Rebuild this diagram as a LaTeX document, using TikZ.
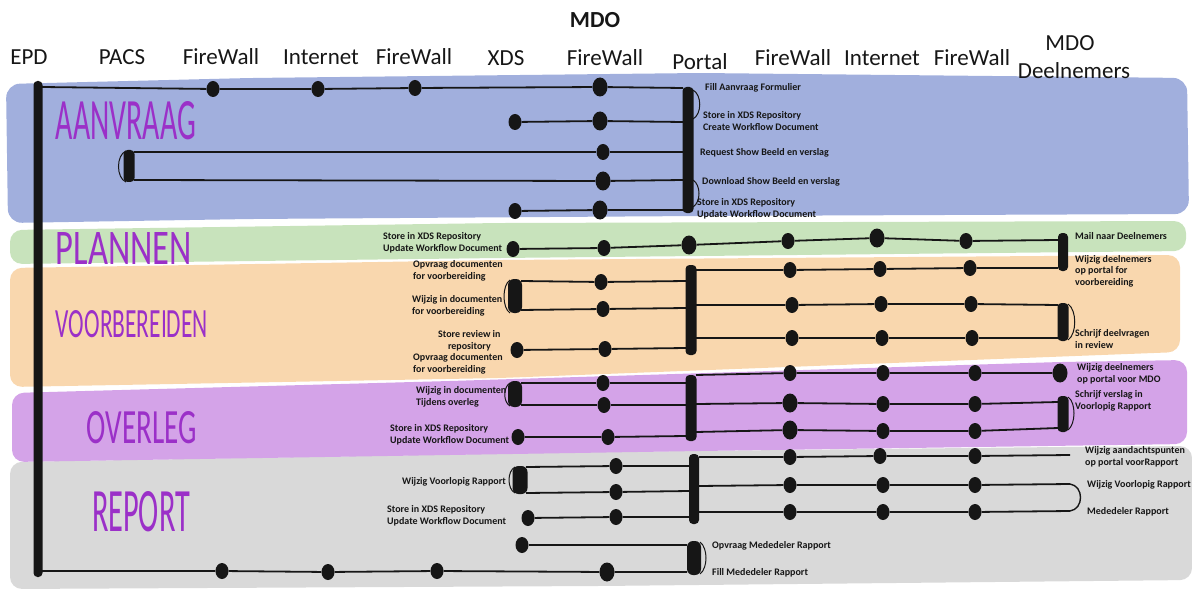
\documentclass[tikz,border=0pt]{standalone}
\usepackage{fontspec}
\usepackage{graphicx}
\setmainfont{Carlito}
\usetikzlibrary{shapes.geometric}
\definecolor{bandblue}{RGB}{161,175,221}
\definecolor{bandgreen}{RGB}{200,227,188}
\definecolor{bandorange}{RGB}{249,215,174}
\definecolor{bandpurple}{RGB}{212,163,232}
\definecolor{bandgray}{RGB}{217,217,217}
\definecolor{ink}{RGB}{22,22,22}
\definecolor{phasecol}{RGB}{155,48,200}
\begin{document}
\begin{tikzpicture}[x=1pt,y=-1pt,
  dot/.style={ellipse, fill=ink, inner sep=0pt, minimum width=13pt, minimum height=16pt},
  bigdot/.style={dot, minimum width=15pt, minimum height=19pt},
  bar/.style={rectangle, rounded corners=4pt, fill=ink, inner sep=0pt, minimum width=10pt},
  wire/.style={draw=ink, line width=1.8pt},
  rim/.style={draw=ink, line width=1pt},
  note/.style={font=\fontsize{10}{11.5}\selectfont\bfseries, text=ink, align=left, inner sep=0pt, anchor=west},
  hdr/.style={font=\fontsize{23}{23}\selectfont, text=ink, inner sep=0pt},
  phase/.style={text=phasecol, inner sep=0pt}]
\useasboundingbox (0,0) rectangle (1192,591);

% ---- coloured phase bands
\fill[bandblue, rounded corners=14pt] (6,84) -- (250,78) -- (700,73) -- (1187,78) -- (1189,214) -- (700,216) -- (250,219) -- (8,223) -- cycle;
\fill[bandgreen, rounded corners=12pt] (10,230) -- (500,223) -- (1186,221) -- (1186,251) -- (700,256) -- (500,258) -- (10,264) -- cycle;
\fill[bandorange, rounded corners=12pt] (10,268) -- (500,260) -- (1180,255) -- (1180,352) -- (500,378) -- (10,387) -- cycle;
\fill[bandgray, rounded corners=12pt] (10,462) -- (600,452) -- (1060,447) -- (1192,446) -- (1192,580) -- (600,586) -- (10,589) -- cycle;
\fill[bandpurple, rounded corners=12pt] (12,393) -- (450,381) -- (1060,362) -- (1187,360) -- (1187,444) -- (700,451) -- (12,462) -- cycle;

% ---- column headers
\node[hdr, font=\fontsize{23}{23}\selectfont\bfseries] (mdotop) at (595,20) {MDO};
\node[hdr] (hEPD) at (29,57) {EPD};
\node[hdr] (hPACS) at (122,57) {PACS};
\node[hdr] (hFW1) at (221,57) {FireWall};
\node[hdr] (hINT1) at (321,57) {Internet};
\node[hdr] (hFW2) at (414,57) {FireWall};
\node[hdr] (hXDS) at (506,58) {XDS};
\node[hdr] (hFW3) at (605,58) {FireWall};
\node[hdr] (hPortal) at (700,62) {Portal};
\node[hdr] (hFW4) at (793,58) {FireWall};
\node[hdr] (hINT2) at (882,58) {Internet};
\node[hdr] (hFW5) at (972,58) {FireWall};
\node[hdr] (hMDO) at (1070,43) {MDO};
\node[hdr] (hDeel) at (1074,71) {Deelnemers};

% ---- phase names
\node[phase] (phA) at (126,121) {\resizebox{140pt}{38pt}{AANVRAAG}};
\node[phase] (phP) at (124,248) {\resizebox{136pt}{32pt}{PLANNEN}};
\node[phase] (phV) at (132,324) {\resizebox{152pt}{27pt}{VOORBEREIDEN}};
\node[phase] (phO) at (142,428) {\resizebox{110pt}{32pt}{OVERLEG}};
\node[phase] (phR) at (141,512) {\resizebox{98pt}{40pt}{REPORT}};

% ---- system bars
\node[bar, minimum width=9pt, minimum height=496pt] (epd) at (38,329) {};
\coordinate (epdT) at (42,87);
\coordinate (epdB) at (42,571);
\node[bar, minimum width=11pt, minimum height=32pt] (pacs) at (129,166) {};
\coordinate (kA1) at (134,152);
\coordinate (kA2) at (134,180);
\node[bar, minimum width=11pt, minimum height=126pt] (pbA) at (688,150) {};
\node[bar, minimum width=11pt, minimum height=90pt] (pbV) at (691,310) {};
\node[bar, minimum width=11pt, minimum height=66pt] (pbO) at (691,408) {};
\node[bar, minimum width=10pt, minimum height=70pt] (pbR) at (694,489) {};
\node[bar, minimum width=14pt, minimum height=34pt, rounded corners=6pt] (pbB) at (694,558) {};
\node[bar, minimum width=14pt, minimum height=34pt, rounded corners=6pt] (xbV) at (515,296) {};
\node[bar, minimum width=14pt, minimum height=26pt, rounded corners=6pt] (xbO) at (515,394) {};
\node[bar, minimum width=15pt, minimum height=28pt, rounded corners=6pt] (xbR) at (520,480) {};
\node[bar, minimum width=10pt, minimum height=38pt] (mb1) at (1063,252) {};
\node[bar, minimum width=11pt, minimum height=38pt] (mb2) at (1063,322) {};
\node[bar, minimum width=11pt, minimum height=36pt] (mb3) at (1063,414) {};

% thin outlines beside the bars
\draw[rim] (126,151) .. controls (116,155) and (116,178) .. (126,182);
\draw[rim] (693,90) .. controls (702,95) and (702,114) .. (693,119);
\draw[rim] (693,180) .. controls (701,185) and (701,202) .. (693,207);
\draw[rim] (510,280) .. controls (502,285) and (502,308) .. (510,313);
\draw[rim] (510,383) .. controls (503,387) and (503,402) .. (510,406);
\draw[rim] (515,467) .. controls (507,471) and (507,489) .. (515,493);
\draw[rim] (1068,304) .. controls (1077,310) and (1077,334) .. (1068,340);
\draw[rim] (1068,397) .. controls (1076,402) and (1076,424) .. (1068,430);
\draw[rim] (700,542) .. controls (708,548) and (708,568) .. (700,574);

% ---- bar attachment points
\coordinate (pA1) at (683,88);  \coordinate (pA2) at (683,122);
\coordinate (pA3) at (683,152); \coordinate (pA4) at (683,180);
\coordinate (pA5) at (683,210);
\coordinate (m1a) at (1058,240); \coordinate (m1b) at (1058,268);
\coordinate (xV1) at (521,281); \coordinate (xV2) at (521,310);
\coordinate (pV1) at (686,281); \coordinate (pV2) at (686,308); \coordinate (pV3) at (686,348);
\coordinate (pV4) at (696,270); \coordinate (pV5) at (696,305); \coordinate (pV6) at (696,338);
\coordinate (m2a) at (1058,305); \coordinate (m2b) at (1058,338);
\coordinate (xO1) at (521,383); \coordinate (xO2) at (521,405);
\coordinate (pO1) at (686,383); \coordinate (pO2) at (686,405); \coordinate (pO3) at (686,436);
\coordinate (pO4) at (696,375); \coordinate (pO5) at (696,404); \coordinate (pO6) at (696,432);
\coordinate (m3a) at (1058,402); \coordinate (m3b) at (1058,428);
\coordinate (xR1) at (526,467); \coordinate (xR2) at (526,493);
\coordinate (pR1) at (689,466); \coordinate (pR2) at (689,491); \coordinate (pR3) at (689,517);
\coordinate (pR4) at (699,457); \coordinate (pR5) at (699,486); \coordinate (pR6) at (699,512);
\coordinate (pB1) at (687,545); \coordinate (pB2) at (687,572);
\coordinate (rE) at (1070,455); \coordinate (rK1) at (1070,484); \coordinate (rK2) at (1070,511);

% ---- dots: Aanvraag
\node[dot] (a1) at (213,89) {};
\node[dot] (a2) at (318,89) {};
\node[dot] (a3) at (415,88) {};
\node[bigdot] (a4) at (600,87) {};
\node[dot] (a5) at (515,122) {};
\node[bigdot] (a6) at (600,121) {};
\node[dot] (a7) at (603,152) {};
\node[bigdot] (a8) at (603,181) {};
\node[dot] (a9) at (515,211) {};
\node[bigdot] (a10) at (600,210) {};
% Plannen
\node[dot] (p1) at (513,249) {};
\node[dot] (p2) at (604,248) {};
\node[bigdot] (p3) at (689,245) {};
\node[dot] (p4) at (788,241) {};
\node[bigdot] (p5) at (877,238) {};
\node[dot] (p6) at (966,241) {};
% Voorbereiden
\node[dot] (v1) at (601,282) {};
\node[dot] (v2) at (603,309) {};
\node[dot] (v3) at (517,350) {};
\node[dot] (v4) at (605,349) {};
\node[dot] (v5) at (790,270) {};
\node[dot] (v6) at (880,269) {};
\node[dot] (v7) at (970,268) {};
\node[dot] (v8) at (792,305) {};
\node[dot] (v9) at (881,304) {};
\node[dot] (v10) at (971,304) {};
\node[dot] (v11) at (792,338) {};
\node[dot] (v12) at (882,338) {};
\node[dot] (v13) at (972,338) {};
% Overleg
\node[dot] (o1) at (603,383) {};
\node[dot] (o2) at (604,405) {};
\node[dot] (o3) at (518,437) {};
\node[dot] (o4) at (608,437) {};
\node[dot] (o5) at (790,373) {};
\node[dot] (o6) at (883,373) {};
\node[dot] (o7) at (975,373) {};
\node[bigdot] (o8) at (1060,373) {};
\node[bigdot] (o9) at (790,403) {};
\node[dot] (o10) at (883,404) {};
\node[dot] (o11) at (975,404) {};
\node[bigdot] (o12) at (790,430) {};
\node[dot] (o13) at (883,431) {};
\node[dot] (o14) at (975,431) {};
% Report
\node[dot] (r1) at (616,466) {};
\node[dot] (r2) at (616,492) {};
\node[dot] (r3) at (528,518) {};
\node[dot] (r4) at (616,517) {};
\node[dot] (r5) at (522,545) {};
\node[dot] (r6) at (790,457) {};
\node[dot] (r7) at (880,456) {};
\node[dot] (r8) at (975,456) {};
\node[dot] (r9) at (790,485) {};
\node[dot] (r10) at (883,485) {};
\node[dot] (r11) at (975,485) {};
\node[dot] (r12) at (790,512) {};
\node[dot] (r13) at (883,512) {};
\node[dot] (r14) at (975,512) {};
% bottom line
\node[dot] (b1) at (222,571) {};
\node[dot] (b2) at (328,572) {};
\node[dot] (b3) at (437,571) {};
\node[bigdot] (b4) at (607,572) {};

% ---- message lines
\draw[wire] (epdT) -- (a1) -- (a2) -- (a3) -- (a4) -- (pA1);
\draw[wire] (a5) -- (a6) -- (pA2);
\draw[wire] (kA1) -- (a7) -- (pA3);
\draw[wire] (kA2) -- (a8) -- (pA4);
\draw[wire] (a9) -- (a10) -- (pA5);

\draw[wire] (p1) -- (p2) -- (p3) -- (p4) -- (p5) -- (p6) -- (m1a);

\draw[wire] (xV1) -- (v1) -- (pV1);
\draw[wire] (xV2) -- (v2) -- (pV2);
\draw[wire] (v3) -- (v4) -- (pV3);
\draw[wire] (pV4) -- (v5) -- (v6) -- (v7) -- (m1b);
\draw[wire] (pV5) -- (v8) -- (v9) -- (v10) -- (m2a);
\draw[wire] (pV6) -- (v11) -- (v12) -- (v13) -- (m2b);

\draw[wire] (xO1) -- (o1) -- (pO1);
\draw[wire] (xO2) -- (o2) -- (pO2);
\draw[wire] (o3) -- (o4) -- (pO3);
\draw[wire] (pO4) -- (o5) -- (o6) -- (o7) -- (o8);
\draw[wire] (pO5) -- (o9) -- (o10) -- (o11) -- (m3a);
\draw[wire] (pO6) -- (o12) -- (o13) -- (o14) -- (m3b);

\draw[wire] (xR1) -- (r1) -- (pR1);
\draw[wire] (xR2) -- (r2) -- (pR2);
\draw[wire] (r3) -- (r4) -- (pR3);
\draw[wire] (r5) -- (pB1);
\draw[wire] (pR4) -- (r6) -- (r7) -- (r8) -- (rE);
\draw[wire] (pR5) -- (r9) -- (r10) -- (r11) -- (rK1);
\draw[wire] (pR6) -- (r12) -- (r13) -- (r14) -- (rK2);
\draw[wire, line width=1.4pt] (rK1) .. controls (1084,486) and (1084,509) .. (rK2);

\draw[wire] (epdB) -- (b1) -- (b2) -- (b3) -- (b4) -- (pB2);

% ---- step notes
\node[note] (nA1) at (705,88) {Fill Aanvraag Formulier};
\node[note] (nA2) at (703,121) {Store in XDS Repository\\Create Workflow Document};
\node[note] (nA3) at (700,153) {Request Show Beeld en verslag};
\node[note] (nA4) at (702,182) {Download Show Beeld en verslag};
\node[note] (nA5) at (697,209) {Store in XDS Repository\\Update Workflow Document};

\node[note] (nP1) at (383,243) {Store in XDS Repository\\Update Workflow Document};
\node[note] (nP2) at (1075,236) {Mail naar Deelnemers};

\node[note] (nV1) at (413,271) {Opvraag documenten\\for voorbereiding};
\node[note] (nV2) at (412,306) {Wijzig in documenten\\for voorbereiding};
\node[note, align=center] (nV3) at (438,341) {Store review in\\repository};
\node[note] (nV4) at (413,364) {Opvraag documenten\\for voorbereiding};
\node[note] (nV5) at (1075,271) {Wijzig deelnemers\\op portal for\\voorbereiding};
\node[note] (nV6) at (1075,339) {Schrijf deelvragen\\in review};

\node[note] (nO1) at (416,397) {Wijzig in documenten\\Tijdens overleg};
\node[note] (nO2) at (390,435) {Store in XDS Repository\\Update Workflow Document};
\node[note] (nO3) at (1077,374) {Wijzig deelnemers\\op portal voor MDO};
\node[note] (nO4) at (1075,401) {Schrijf verslag in\\Voorlopig Rapport};

\node[note] (nR1) at (402,482) {Wijzig Voorlopig Rapport};
\node[note] (nR2) at (387,516) {Store in XDS Repository\\Update Workflow Document};
\node[note] (nR3) at (1085,457) {Wijzig aandachtspunten\\op portal voorRapport};
\node[note] (nR4) at (1087,485) {Wijzig Voorlopig Rapport};
\node[note] (nR5) at (1087,512) {Mededeler Rapport};
\node[note] (nR6) at (712,546) {Opvraag Mededeler Rapport};
\node[note] (nR7) at (712,573) {Fill Mededeler Rapport};
\end{tikzpicture}
\end{document}
